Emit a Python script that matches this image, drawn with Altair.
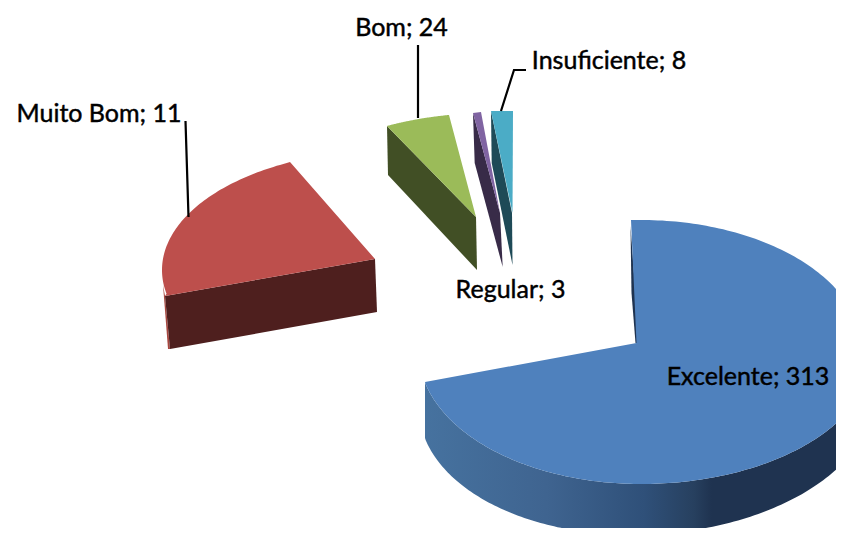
import math
import altair as alt
import pandas as pd

categories = ["Excelente", "Muito Bom", "Bom", "Regular", "Insuficiente"]
values = [313, 11, 24, 3, 8]
face_colors = ["#4f81bd", "#bd4f4c", "#9bbb59", "#8064a2", "#4bacc6"]
wall_colors = ["#1f3350", "#4e1f1e", "#414f25", "#382b48", "#1e4a57"]
font = "Lato"
font_size = 25


def arc(cx, cy, rx, ry, p0, p1, clockwise=True, n=80):
    t0 = math.atan2((p0[1] - cy) / ry, (p0[0] - cx) / rx)
    t1 = math.atan2((p1[1] - cy) / ry, (p1[0] - cx) / rx)
    if clockwise and t1 < t0:
        t1 += 2 * math.pi
    pts = [p0]
    for i in range(1, n):
        t = t0 + (t1 - t0) * i / n
        pts.append((cx + rx * math.cos(t), cy + ry * math.sin(t)))
    pts.append(p1)
    return pts


X = alt.X("x:Q", scale=alt.Scale(domain=[8, 836], nice=False, zero=False), axis=None)
Y = alt.Y("y:Q", scale=alt.Scale(domain=[528, 8], nice=False, zero=False), axis=None)


def poly(pts, fill):
    closed = list(pts) + [pts[0]]
    df = pd.DataFrame({"x": [p[0] for p in closed], "y": [p[1] for p in closed], "o": range(len(closed))})
    return alt.Chart(df).mark_line(fill=fill, strokeOpacity=0, clip=True, interpolate="linear").encode(
        x=X, y=Y, order="o:Q")


def leader(pts):
    df = pd.DataFrame({"x": [p[0] for p in pts], "y": [p[1] for p in pts], "o": range(len(pts))})
    return alt.Chart(df).mark_line(color="#000000", strokeWidth=2.2).encode(x=X, y=Y, order="o:Q")


# Excelente
upper_right = arc(641, 352, 222, 132, (631, 220), (863, 352))
lower_right = arc(641, 352, 232, 132, (873, 352), (641, 484))
lower_left = arc(641, 352, 222, 132, (641, 484), (425, 382))
lower = lower_right + lower_left
ex_wall = lower + [(x, y + 56 - (x - 425) * 10 / 418) for x, y in reversed(lower)]
grad = alt.Gradient(
    gradient="linear", x1=0, x2=1, y1=0, y2=0,
    stops=[
        alt.GradientStop(offset=0, color="#46729f"),
        alt.GradientStop(offset=0.27, color="#3f6490"),
        alt.GradientStop(offset=0.49, color="#2f5079"),
        alt.GradientStop(offset=0.6, color="#27405f"),
        alt.GradientStop(offset=0.64, color=wall_colors[0]),
        alt.GradientStop(offset=1, color=wall_colors[0]),
    ],
)
layers = [
    poly(ex_wall, grad),
    poly([(630.5, 226), (631.5, 293), (635.5, 343), (639, 343)], wall_colors[0]),
    poly([(636.5, 343)] + upper_right + lower, face_colors[0]),
]

# Muito Bom
layers += [
    poly([(163, 285), (165, 296), (170, 349), (168, 349)], "#a8473f"),
    poly([(375, 259), (165, 296), (170, 349), (377, 312)], wall_colors[1]),
    poly([(375, 259)] + arc(390, 270, 228, 120, (165, 296), (290, 162)), face_colors[1]),
]

# Bom
layers += [
    poly([(387, 126), (476, 217), (477, 270), (388, 175)], wall_colors[2]),
    poly([(476, 217)] + arc(490, 233, 228, 120, (387, 126), (449, 115)), face_colors[2]),
]

# Regular
layers += [
    poly([(473, 113), (500, 213), (502.7, 267), (474.7, 163)], wall_colors[3]),
    poly([(473, 113), (481, 112), (500, 213)], face_colors[3]),
]

# Insuficiente
layers += [
    poly([(491, 111), (512, 213), (512.5, 265), (491.7, 163)], wall_colors[4]),
    poly([(491, 111), (513, 111), (512.5, 213)], face_colors[4]),
]

# Leaders
layers += [
    leader([(185.5, 121), (188.5, 217)]),
    leader([(418, 45), (418, 118)]),
    leader([(526, 70), (514, 70), (501, 111)]),
]

# Labels
label_x = [748, 99, 401.5, 510.5, 609]
label_y = [377, 114, 28, 290, 61]
labels = pd.DataFrame({
    "x": label_x, "y": label_y,
    "t": [f"{c}; {v}" for c, v in zip(categories, values)],
})
layers.append(
    alt.Chart(labels).mark_text(font=font, fontSize=font_size, color="#000000", stroke="#000000", strokeWidth=0.45,
                                align="center", baseline="middle").encode(
        x=X, y=Y, text="t:N")
)

chart = alt.layer(*layers).properties(
    width=828, height=520, padding=0,
    autosize=alt.AutoSizeParams(type="none"), background="#ffffff",
).configure_view(stroke=None)
chart.save("out.html", embed_options={"renderer": "svg", "actions": False})
